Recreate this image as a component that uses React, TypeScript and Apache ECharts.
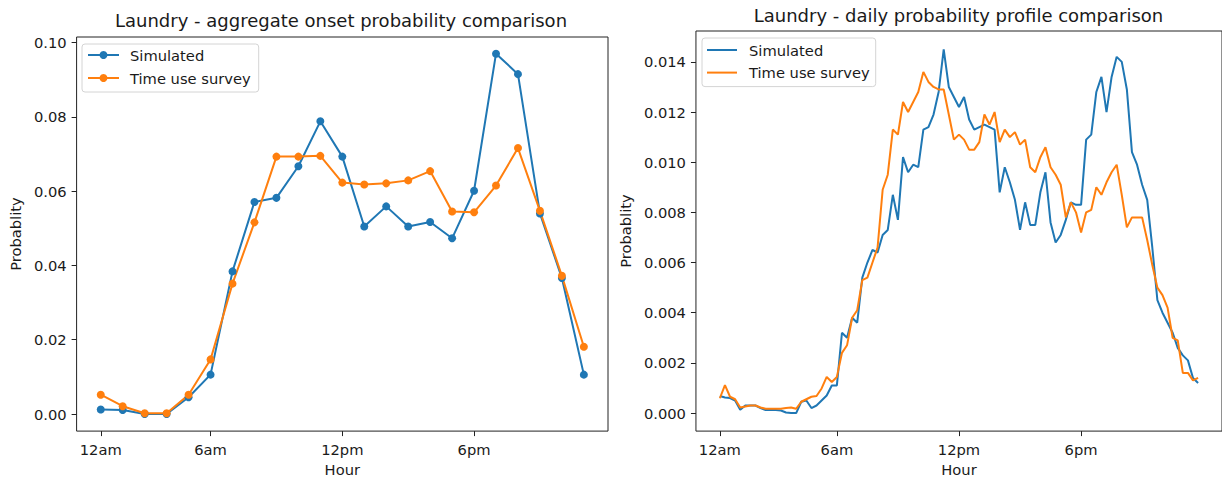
import React, { useEffect, useRef } from 'react';
import * as echarts from 'echarts';

// ---------- data ----------
const tickLabels = ['12am', '6am', '12pm', '6pm'];
const onsetTickPos = [0, 5, 11, 17];
const profileTickPos = [0, 23, 47, 71];
const onsetYTicks = [0, 0.02, 0.04, 0.06, 0.08, 0.1];
const profileYTicks = [0, 0.002, 0.004, 0.006, 0.008, 0.01, 0.012, 0.014];

const simOnset = [
  0.0012, 0.0011, 0.0, 0.0, 0.0045, 0.0106, 0.0384, 0.0571, 0.0582, 0.0667, 0.0788, 0.0693,
  0.0505, 0.0559, 0.0505, 0.0517, 0.0473, 0.0601, 0.097, 0.0915, 0.054, 0.0366, 0.0106,
];
const surveyOnset = [
  0.0052, 0.0021, 0.0002, 0.0002, 0.0052, 0.0147, 0.0351, 0.0516, 0.0693, 0.0693, 0.0695, 0.0623,
  0.0618, 0.0621, 0.0629, 0.0654, 0.0545, 0.0543, 0.0615, 0.0716, 0.0547, 0.0372, 0.0181,
];

const simProfile = [
  0.00068, 0.00062, 0.0006, 0.0005, 0.00013, 0.0003, 0.0003, 0.0003, 0.0002, 0.00012, 0.00012, 0.00012,
  0.0001, 0.00002, 0.0, 0.0, 0.00045, 0.0005, 0.0002, 0.0003, 0.0005, 0.0007, 0.0011, 0.0011,
  0.0032, 0.003, 0.0038, 0.0036, 0.0054, 0.006, 0.0065, 0.0064, 0.0071, 0.0073, 0.0087, 0.0077,
  0.0102, 0.0096, 0.0099, 0.0098, 0.0113, 0.0114, 0.0119, 0.0128, 0.0145, 0.013, 0.0126, 0.0122,
  0.0126, 0.0117, 0.0113, 0.0114, 0.0115, 0.0114, 0.0113, 0.0088, 0.0098, 0.0092, 0.0085, 0.0073,
  0.0084, 0.0075, 0.0075, 0.0088, 0.0096, 0.0076, 0.0068, 0.0071, 0.0077, 0.0084, 0.0083, 0.0083,
  0.0109, 0.0111, 0.0128, 0.0134, 0.012, 0.0134, 0.0142, 0.014, 0.0129, 0.0104, 0.0099, 0.0091,
  0.0085, 0.0066, 0.0045, 0.004, 0.0036, 0.0032, 0.0026, 0.0023, 0.0021, 0.0014, 0.0012,
];
const surveyProfile = [
  0.00059, 0.00111, 0.00065, 0.00055, 0.00022, 0.00026, 0.0003, 0.0003, 0.00022, 0.00017, 0.00017, 0.00017,
  0.00017, 0.0002, 0.00022, 0.00017, 0.00045, 0.00055, 0.00065, 0.00068, 0.00098, 0.00144, 0.00124, 0.00144,
  0.0024, 0.0027, 0.0038, 0.0041, 0.0053, 0.0054, 0.006, 0.0066, 0.0089, 0.0095, 0.0113, 0.0111,
  0.0124, 0.012, 0.0124, 0.0128, 0.0136, 0.0132, 0.013, 0.0129, 0.0129, 0.0119, 0.0109, 0.0111,
  0.0109, 0.0105, 0.0105, 0.0108, 0.0119, 0.0115, 0.012, 0.0108, 0.0113, 0.011, 0.0112, 0.0107,
  0.0109, 0.0098, 0.0096, 0.0102, 0.0106, 0.0098, 0.0095, 0.0091, 0.0078, 0.0084, 0.008, 0.0072,
  0.008, 0.0081, 0.009, 0.0087, 0.0092, 0.0096, 0.0099, 0.0087, 0.0074, 0.0078, 0.0078, 0.0078,
  0.0069, 0.0059, 0.005, 0.0047, 0.0042, 0.003, 0.0029, 0.0016, 0.0016, 0.0013, 0.0014,
];

const BLUE = '#1f77b4';
const ORANGE = '#ff7f0e';
const FONT = 'DejaVu Sans';
const TXT = '#1a1a1a';
const FS = 14.7;

const toPairs = (arr: number[]) => arr.map((v, i) => [i, v]);

function xAxisCfg(min: number, max: number, pos: number[]) {
  return {
    type: 'value',
    min,
    max,
    name: 'Hour',
    nameLocation: 'middle',
    nameGap: 30,
    nameTextStyle: { fontFamily: FONT, fontSize: FS, color: TXT },
    axisLine: { show: false, onZero: false },
    splitLine: { show: false },
    axisTick: { show: true, length: 5, customValues: pos, lineStyle: { color: '#222', width: 1 } },
    axisLabel: {
      customValues: pos,
      margin: 11,
      fontFamily: FONT,
      fontSize: FS,
      color: TXT,
      formatter: (v: number) => {
        const k = pos.indexOf(Math.round(v));
        return k >= 0 ? tickLabels[k] : '';
      },
    },
  };
}

function yAxisCfg(min: number, max: number, ticks: number[], digits: number, gap: number) {
  return {
    type: 'value',
    min,
    max,
    name: 'Probablity',
    nameLocation: 'middle',
    nameGap: gap,
    nameTextStyle: { fontFamily: FONT, fontSize: FS, color: TXT },
    axisLine: { show: false, onZero: false },
    splitLine: { show: false },
    axisTick: { show: true, length: 5, customValues: ticks, lineStyle: { color: '#222', width: 1 } },
    axisLabel: {
      customValues: ticks,
      margin: 10,
      fontFamily: FONT,
      fontSize: FS,
      color: TXT,
      formatter: (v: number) => v.toFixed(digits),
    },
  };
}

function onsetOption() {
  return {
    animation: false,
    backgroundColor: '#fff',
    title: {
      text: 'Laundry - aggregate onset probability comparison',
      left: 341,
      top: 11,
      padding: 0,
      textAlign: 'center',
      textStyle: { fontFamily: FONT, fontSize: 18, fontWeight: 'normal', color: TXT },
    },
    legend: {
      orient: 'vertical',
      left: 82,
      top: 44,
      itemWidth: 31,
      itemHeight: 10,
      itemGap: 7,
      padding: [3, 8, 6, 5],
      backgroundColor: '#fff',
      borderColor: '#d4d4d4',
      borderWidth: 1,
      borderRadius: 3,
      textStyle: { fontFamily: FONT, fontSize: FS, color: TXT, lineHeight: 16, padding: [0, 0, 0, 6] },
      data: ['Simulated', 'Time use survey'],
    },
    grid: { left: 74, top: 37, width: 534, height: 396, show: true, borderColor: '#222', borderWidth: 1, backgroundColor: 'transparent' },
    xAxis: xAxisCfg(-1.1, 23.1, onsetTickPos),
    yAxis: yAxisCfg(-0.0046, 0.1015, onsetYTicks, 2, 50),
    series: [
      {
        name: 'Simulated',
        type: 'line',
        data: toPairs(simOnset),
        symbol: 'circle',
        symbolSize: 8,
        itemStyle: { color: BLUE },
        lineStyle: { color: BLUE, width: 2 },
      },
      {
        name: 'Time use survey',
        type: 'line',
        data: toPairs(surveyOnset),
        symbol: 'circle',
        symbolSize: 8,
        itemStyle: { color: ORANGE },
        lineStyle: { color: ORANGE, width: 2 },
      },
    ],
  };
}

function profileOption() {
  return {
    animation: false,
    backgroundColor: '#fff',
    title: {
      text: 'Laundry - daily probability profile comparison',
      left: 348.5,
      top: 6,
      padding: 0,
      textAlign: 'center',
      textStyle: { fontFamily: FONT, fontSize: 18, fontWeight: 'normal', color: TXT },
    },
    legend: {
      orient: 'vertical',
      left: 92,
      top: 38,
      icon: 'rect',
      itemWidth: 30,
      itemHeight: 2,
      itemGap: 6.6,
      padding: [4, 6, 6, 5],
      backgroundColor: '#fff',
      borderColor: '#d4d4d4',
      borderWidth: 1,
      borderRadius: 3,
      textStyle: { fontFamily: FONT, fontSize: FS, color: TXT, lineHeight: 16, padding: [0, 0, 0, 7] },
      data: ['Simulated', 'Time use survey'],
    },
    grid: { left: 85, top: 31, width: 527.4, height: 406, show: true, borderColor: '#222', borderWidth: 1, backgroundColor: 'transparent' },
    xAxis: xAxisCfg(-4.7, 98.7, profileTickPos),
    yAxis: yAxisCfg(-0.00072, 0.01523, profileYTicks, 3, 61),
    series: [
      {
        name: 'Simulated',
        type: 'line',
        data: toPairs(simProfile),
        symbol: 'none',
        itemStyle: { color: BLUE },
        lineStyle: { color: BLUE, width: 2 },
      },
      {
        name: 'Time use survey',
        type: 'line',
        data: toPairs(surveyProfile),
        symbol: 'none',
        itemStyle: { color: ORANGE },
        lineStyle: { color: ORANGE, width: 2 },
      },
    ],
  };
}

export default function App() {
  const leftRef = useRef<HTMLDivElement>(null);
  const rightRef = useRef<HTMLDivElement>(null);

  useEffect(() => {
    document.body.style.margin = '0';
    const a = echarts.init(leftRef.current!, null, { renderer: 'svg' });
    const b = echarts.init(rightRef.current!, null, { renderer: 'svg' });
    a.setOption(onsetOption() as any);
    b.setOption(profileOption() as any);
    return () => {
      a.dispose();
      b.dispose();
    };
  }, []);

  return (
    <div style={{ position: 'relative', width: 1222, height: 482, background: '#fff', overflow: 'hidden' }}>
      <div ref={leftRef} style={{ position: 'absolute', left: 0, top: 0, width: 610, height: 482 }} />
      <div ref={rightRef} style={{ position: 'absolute', left: 610, top: 0, width: 612, height: 482 }} />
    </div>
  );
}
